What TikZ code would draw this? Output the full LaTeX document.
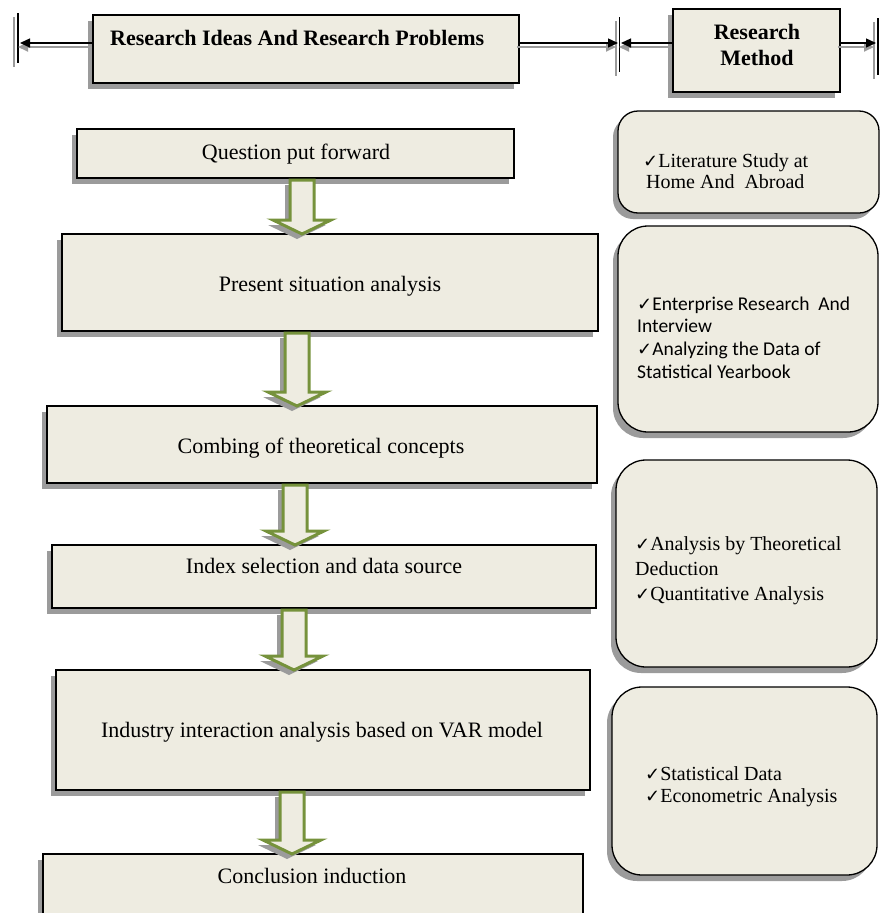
\documentclass[tikz,border=0pt]{standalone}
\usepackage{fontspec}
\usepackage{graphicx}
\setmainfont{Liberation Serif}
\newfontfamily\calib{Carlito}
\newfontfamily\symf{DejaVu Sans}
\usetikzlibrary{arrows.meta,shadows,calc}
\definecolor{boxfill}{RGB}{238,236,225}
\definecolor{arrgreen}{RGB}{118,146,60}
\definecolor{shadowgray}{RGB}{155,155,155}
\newcommand\ck{{\symf\fontsize{18pt}{18pt}\selectfont ✓}}
\newcommand\blockarrow[3]{%
  \draw[barrow] let \p1=(#1 |- #2.south), \p2=(#1 |- #3.north) in
    (\x1-12pt,\y1-2pt) -- (\x1+12pt,\y1-2pt) -- (\x1+12pt,\y2+14pt) --
    (\x1+29pt,\y2+14pt) -- (\x1,\y2) -- (\x1-29pt,\y2+14pt) --
    (\x1-12pt,\y2+14pt) -- cycle;}
\begin{document}
\begin{tikzpicture}[x=1pt,y=-1pt,
  shad/.style={drop shadow={shadow xshift=-5pt,shadow yshift=-6pt,opacity=1,fill=shadowgray}},
  box/.style={draw=black,line width=1.3pt,fill=boxfill,shad,anchor=north west,inner sep=0,outer sep=0},
  rbox/.style={box,rounded corners=#1},
  barrow/.style={draw=arrgreen,line width=3pt,fill=boxfill,line join=miter,
    drop shadow={shadow xshift=-5pt,shadow yshift=-5pt,opacity=1,fill=shadowgray}},
  ltext/.style={font=\fontsize{22pt}{26pt}\selectfont,anchor=base,inner sep=0},
  htext/.style={font=\bfseries\fontsize{22pt}{26pt}\selectfont,inner sep=0},
  rtext/.style={font=\fontsize{20pt}{24pt}\selectfont,anchor=base west,inner sep=0},
  ctext/.style={font=\calib\fontsize{19.5pt}{23pt}\selectfont,anchor=base west,inner sep=0},
  harrow/.style={line width=1.3pt,-{Triangle[length=10pt,width=9pt]},
    preaction={draw=shadowgray,line width=2pt,transform canvas={shift={(-2pt,-4pt)}}}},
  barline/.style={line width=1.3pt,
    preaction={draw=shadowgray,line width=2pt,transform canvas={shift={(-4pt,-4pt)}}}}
]
\useasboundingbox (0,0) rectangle (880,913);

% header
\node[box,minimum width=426pt,minimum height=68pt] (h1) at (93,15) {};
\node[box,minimum width=167pt,minimum height=83pt] (h2) at (673,9) {};
\node[htext,anchor=base west] (th1) at (110,45) {Research Ideas And Research Problems};
\node[htext,anchor=base] (th2) at (757,39) {\vtop{\baselineskip=26pt
  \hbox to 120pt{\hfil Research\hfil}\hbox to 120pt{\hfil Method\hfil}}};

\coordinate (barL) at (20,43);
\coordinate (barM1) at (618,43);
\coordinate (barM2) at (621,43);
\coordinate (barR) at (876,43);
\draw[barline] (18,13) -- (18,63);
\draw[barline] (619.5,17) -- (619.5,72);
\draw[barline] (878,18) -- (878,75);
\draw[harrow] (h1.west |- barL) -- (barL);
\draw[harrow] (h1.east |- barM1) -- (barM1);
\draw[harrow] (h2.west |- barM2) -- (barM2);
\draw[harrow] (h2.east |- barR) -- (barR);

% left column
\node[box,minimum width=437pt,minimum height=49pt] (q) at (77,129) {};
\node[box,minimum width=536pt,minimum height=97pt] (p) at (62,234) {};
\node[box,minimum width=550pt,minimum height=77pt] (c) at (47,406) {};
\node[box,minimum width=544pt,minimum height=63pt] (i) at (52,545) {};
\node[box,minimum width=534pt,minimum height=120pt] (v) at (56,670) {};
\node[box,minimum width=540pt,minimum height=90pt] (k) at (43,854) {};

\node[ltext] (tq) at (296,159) {Question put forward};
\node[ltext] (tp) at (330,291) {Present situation analysis};
\node[ltext] (tc) at (321,453) {Combing of theoretical concepts};
\node[ltext] (ti) at (324,573) {Index selection and data source};
\node[ltext] (tv) at (322,737) {Industry interaction analysis based on VAR model};
\node[ltext] (tk) at (312,883) {Conclusion induction};

\coordinate (ax1) at (302,0);
\coordinate (ax2) at (297,0);
\coordinate (ax3) at (295,0);
\coordinate (ax4) at (294,0);
\coordinate (ax5) at (292,0);
\blockarrow{ax1}{q}{p}
\blockarrow{ax2}{p}{c}
\blockarrow{ax3}{c}{i}
\blockarrow{ax4}{i}{v}
\blockarrow{ax5}{v}{k}

% right column
\node[rbox=20pt,minimum width=261pt,minimum height=102pt] (ra) at (618,111) {};
\node[rbox=30pt,minimum width=260pt,minimum height=206pt] (rb) at (618,226) {};
\node[rbox=30pt,minimum width=261pt,minimum height=207pt] (rc) at (616,460) {};
\node[rbox=30pt,minimum width=265pt,minimum height=188pt] (rd) at (612,687) {};

\node[rtext] (ta) at (643,167) {\vtop{\baselineskip=21pt
  \hbox{\ck Literature Study at}\hbox{\hskip3pt Home And\ \ Abroad}}};
\node[ctext] (tb) at (637,310) {\vtop{\baselineskip=22.7pt
  \hbox{\ck Enterprise Research\ \ And}\hbox{Interview}
  \hbox{\ck Analyzing the Data of}\hbox{Statistical Yearbook}}};
\node[rtext] (tcc) at (635,550) {\vtop{\baselineskip=25pt
  \hbox{\ck Analysis by Theoretical}\hbox{Deduction}
  \hbox{\ck Quantitative Analysis}}};
\node[rtext] (td) at (645,780) {\vtop{\baselineskip=22pt
  \hbox{\ck Statistical Data}\hbox{\ck Econometric Analysis}}};
\end{tikzpicture}
\end{document}
